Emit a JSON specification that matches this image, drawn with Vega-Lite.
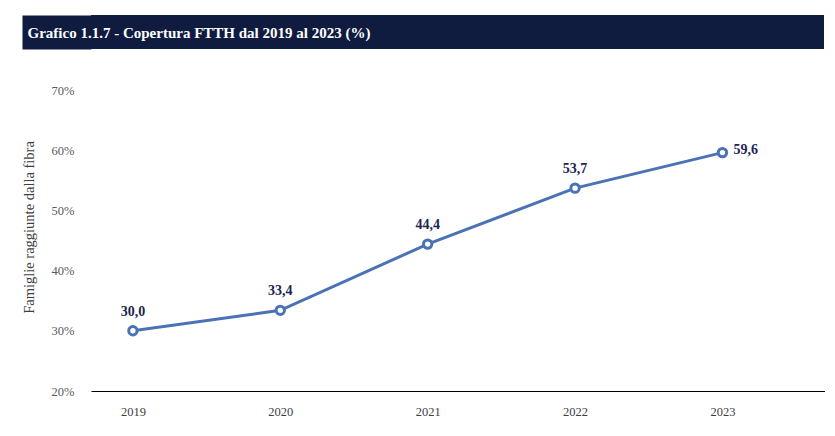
{
  "$schema": "https://vega.github.io/schema/vega-lite/v6.json",
  "padding": {"left": 5, "top": 15, "right": 0, "bottom": 0},
  "spacing": 35,
  "config": {
    "font": "Liberation Serif",
    "view": {"stroke": null},
    "locale": {"number": {"decimal": ",", "thousands": ".", "grouping": [3], "currency": ["€", ""]}}
  },
  "vconcat": [
    {
      "width": 733,
      "height": 34,
      "view": {"fill": "#0f1c40", "stroke": null},
      "data": {"values": [{"t": "Grafico 1.1.7 - Copertura FTTH dal 2019 al 2023 (%)"}]},
      "mark": {"type": "point", "opacity": 0},
      "encoding": {
        "y": {"field": "t", "type": "nominal",
          "axis": {"title": null, "domain": false, "ticks": true, "tickSize": 69, "tickWidth": 34, "tickColor": "#0f1c40", "tickCap": "butt", "labelAlign": "left", "labelBaseline": "middle", "labelPadding": -5, "labelLimit": 0, "labelFont": "Liberation Serif", "labelFontWeight": "bold", "labelFontSize": 15, "labelColor": "#ffffff"}}
      }
    },
    {
      "width": 734,
      "height": 301,
      "data": {"values": [
        {"year": 2019, "value": 30.0},
        {"year": 2020, "value": 33.4},
        {"year": 2021, "value": 44.4},
        {"year": 2022, "value": 53.7},
        {"year": 2023, "value": 59.6}
      ]},
      "encoding": {
        "x": {"field": "year", "type": "ordinal",
          "scale": {"type": "point", "padding": 0.49, "align": 0.29},
          "axis": {"title": null, "labelAngle": 0, "ticks": false, "grid": false, "domainColor": "#000000", "domainWidth": 1.2, "labelPadding": 14, "labelFontSize": 12.5, "labelColor": "#404040", "labelFont": "Liberation Serif"}},
        "y": {"field": "value", "type": "quantitative",
          "scale": {"domain": [20, 70], "nice": false, "zero": false},
          "axis": {"title": "Famiglie raggiunte dalla fibra", "values": [20, 30, 40, 50, 60, 70], "labelExpr": "datum.value + '%'", "domain": false, "ticks": false, "grid": false, "labelPadding": 17, "labelFontSize": 12.5, "labelColor": "#595959", "labelFont": "Liberation Serif", "titleFont": "Liberation Serif", "titleFontSize": 14.5, "titleFontWeight": "normal", "titleColor": "#404040", "titlePadding": 15, "titleY": 137}}
      },
      "layer": [
        {"mark": {"type": "line", "color": "#4a72b5", "strokeWidth": 3}},
        {"mark": {"type": "point", "shape": "circle", "filled": false, "fill": "#ffffff", "fillOpacity": 1, "color": "#4a72b5", "strokeWidth": 3, "size": 70, "opacity": 1}},
        {"transform": [{"filter": "datum.year < 2023"}],
         "mark": {"type": "text", "dy": -19, "fontWeight": "bold", "fontSize": 14, "color": "#1c2553", "font": "Liberation Serif"},
         "encoding": {"text": {"field": "value", "type": "quantitative", "format": ".1f"}}},
        {"transform": [{"filter": "datum.year == 2023"}],
         "mark": {"type": "text", "dx": 11, "dy": -3, "align": "left", "fontWeight": "bold", "fontSize": 14, "color": "#1c2553", "font": "Liberation Serif"},
         "encoding": {"text": {"field": "value", "type": "quantitative", "format": ".1f"}}}
      ]
    }
  ]
}
